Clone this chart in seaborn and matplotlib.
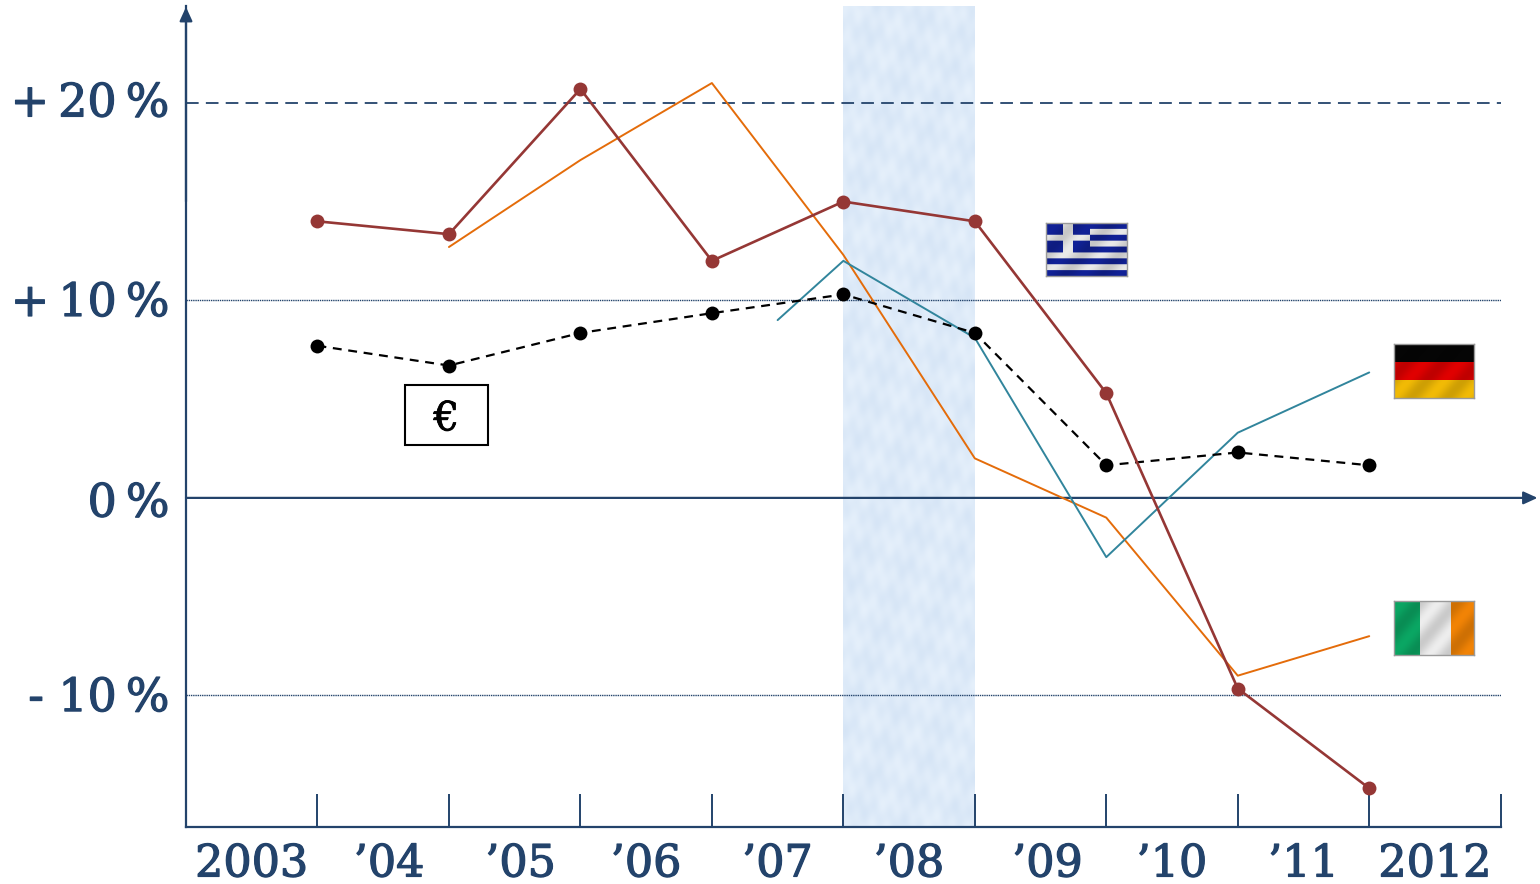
"""
plot.py
Year-on-year change chart: Greece, Ireland, Germany and the euro area, 2003-2012.
"""
import numpy as np
import matplotlib
matplotlib.use("Agg")
import matplotlib.pyplot as plt
from matplotlib.colors import to_rgb
from matplotlib.patches import Rectangle
from matplotlib.transforms import ScaledTranslation
import matplotlib.patheffects as pe
import seaborn as sns

# -----------------------------------------------------------------
# Data (x = end of the year bin, 1 = end of 2003)
# -----------------------------------------------------------------
year_labels = ["2003", "’04", "’05", "’06", "’07", "’08", "’09", "’10", "’11", "2012"]
y_ticks = [-10, 0, 10, 20]
y_labels = ["- 10\u2009%", "0\u2009%", "+\u200910\u2009%", "+\u200920\u2009%"]

x_greece = [1, 2, 3, 4, 5, 6, 7, 8, 9]
greece = [14.0, 13.35, 20.7, 12.0, 15.0, 14.0, 5.3, -9.65, -14.7]
x_euro = [1, 2, 3, 4, 5, 6, 7, 8, 9]
euro = [7.7, 6.7, 8.35, 9.35, 10.3, 8.35, 1.65, 2.3, 1.65]
x_ireland = [2, 3, 4, 5, 6, 7, 8, 9]
ireland = [12.7, 17.1, 21.0, 12.3, 2.0, -1.0, -9.0, -7.0]
x_germany = [4.5, 5, 6, 7, 8, 9]
germany = [9.0, 12.0, 8.1, -3.0, 3.3, 6.35]

NAVY = "#23436b"
RED = "#953735"
ORANGE = "#e46c0a"
TEAL = "#31859c"
BLUE_FLAG = "#101f8c"
WHITE_FLAG = "#d8d8d8"

W, H = 1540, 884
sns.set_theme(style="white")
plt.rcParams["font.family"] = ["DejaVu Serif"]


def px_box(x0, y0, x1, y1):
    # pixel box (top-left origin) -> figure fraction rectangle
    return [x0 / W, 1 - y1 / H, (x1 - x0) / W, (y1 - y0) / H]


fig = plt.figure(figsize=(W / 100, H / 100), dpi=100, facecolor="white")
ax = fig.add_axes(px_box(186, 6, 1500.7, 827))
ax.patch.set_alpha(0)

# crisis band over 2008, mottled like the original paper texture
yy, xx = np.mgrid[0:820, 0:132]
mottle = (np.sin(xx * 0.13 + yy * 0.05) + np.sin(xx * 0.07 - yy * 0.17 + 1.3)
          + 0.7 * np.sin(xx * 0.31 + yy * 0.23 + 0.6) + 0.7 * np.sin(xx * 0.47 - yy * 0.11 + 2.1)) / 3.4
band = np.stack([0.87 + 0.035 * mottle, 0.92 + 0.025 * mottle, 0.975 + 0.012 * mottle], axis=-1)
ax.imshow(np.clip(band, 0, 1), extent=(5, 6, -16.66, 24.9), aspect="auto", zorder=0,
          interpolation="bilinear")
ax.set_xlim(0, 10)
ax.set_ylim(-16.66, 24.9)

# reference lines
ax.axhline(20, color=NAVY, lw=1.3, dashes=(7, 4), zorder=1)
ax.axhline(10, color=NAVY, lw=1.0, ls=(0, (1, 0.6)), zorder=1)
ax.axhline(-10, color=NAVY, lw=1.0, ls=(0, (1, 0.6)), zorder=1)

# series
sns.lineplot(x=x_ireland, y=ireland, color=ORANGE, lw=1.4, ax=ax, zorder=3)
sns.lineplot(x=x_germany, y=germany, color=TEAL, lw=1.4, ax=ax, zorder=3)
sns.lineplot(x=x_euro, y=euro, color="black", lw=1.6, ax=ax, zorder=4,
             linestyle=(0, (4, 3)), marker="o", markersize=10, markeredgewidth=0)
sns.lineplot(x=x_greece, y=greece, color=RED, lw=1.9, ax=ax, zorder=5,
             marker="o", markersize=10, markeredgewidth=0)

# spines and axis arrows
for side in ["top", "right"]:
    ax.spines[side].set_visible(False)
for side in ["left", "bottom"]:
    ax.spines[side].set_color(NAVY)
    ax.spines[side].set_linewidth(1.6)

arrow = dict(arrowstyle="-|>,head_length=0.7,head_width=0.32", color=NAVY, lw=1.6,
             shrinkA=0, shrinkB=0)
ax.annotate("", xy=(0, 24.85), xytext=(0, 15), arrowprops=arrow, annotation_clip=False, zorder=2)
ax.annotate("", xy=(10.28, 0), xytext=(0, 0), arrowprops=arrow, annotation_clip=False, zorder=2)

# ticks: marks on the bin edges, labels on the bin centres
ax.set_xticks(np.arange(1, 11))
ax.set_xticklabels([])
ax.tick_params(axis="x", which="major", direction="in", length=24, width=1.4,
               color=NAVY, bottom=True)
ax.set_xticks(np.arange(10) + 0.5, minor=True)
ax.set_xticklabels(year_labels, minor=True)
ax.tick_params(axis="x", which="minor", length=0, pad=11, labelsize=32, labelcolor=NAVY)

ax.set_yticks(y_ticks)
ax.set_yticklabels(y_labels)
ax.tick_params(axis="y", length=0, pad=12, labelsize=33, labelcolor=NAVY)

stroke = [pe.withStroke(linewidth=0.9, foreground=NAVY)]
x_nudge = [0, 6, 6, 0, 0, 0, 7, 0, 0, 0]
for lab, dx in zip(ax.get_xticklabels(minor=True), x_nudge):
    lab.set_path_effects(stroke)
    lab.set_transform(lab.get_transform() + ScaledTranslation(dx / 100, 0, fig.dpi_scale_trans))
y_nudge = [2, -1, 2, 4]
for lab, dy in zip(ax.get_yticklabels(), y_nudge):
    lab.set_path_effects(stroke)
    lab.set_transform(lab.get_transform() + ScaledTranslation(0, dy / 100, fig.dpi_scale_trans))

# euro label box
ax.add_patch(Rectangle((1.666, 2.68), 0.631, 3.04, fc="white", ec="black", lw=1.5, zorder=3))
ax.text(1.98, 3.95, "€", ha="center", va="center", fontsize=29, color="black", zorder=4,
        path_effects=[pe.withStroke(linewidth=0.6, foreground="black")])


# -----------------------------------------------------------------
# Flags
# -----------------------------------------------------------------
def add_flag(box, img):
    # diagonal sheen so they look like the glossy icons
    h, w = img.shape[:2]
    yy, xx = np.mgrid[0:h, 0:w]
    sheen = 1 + 0.08 * np.sin((xx / w * 2.2 + yy / h * 1.3) * 2 * np.pi)
    fax = fig.add_axes(px_box(*box), zorder=6)
    fax.imshow(np.clip(img * sheen[..., None], 0, 1), aspect="auto", interpolation="bilinear")
    fax.set_xticks([])
    fax.set_yticks([])
    for sp in fax.spines.values():
        sp.set_color("#9a9a9a")
        sp.set_linewidth(1.0)


# Germany: three horizontal stripes
flag = np.zeros((54, 80, 3))
for i, c in enumerate(["#050505", "#d00000", "#e0ad05"]):
    flag[i * 18:(i + 1) * 18] = to_rgb(c)
add_flag((1394, 344, 1474, 398), flag)

# Ireland: three vertical stripes
flag = np.zeros((54, 80, 3))
flag[:, :26] = to_rgb("#0a9a5c")
flag[:, 26:57] = to_rgb("#dcdcdc")
flag[:, 57:] = to_rgb("#e07a05")
add_flag((1394, 601, 1474, 655), flag)

# Greece: nine stripes and a cross in the canton
flag = np.zeros((54, 81, 3))
for i in range(9):
    flag[i * 6:(i + 1) * 6] = to_rgb(BLUE_FLAG if i % 2 == 0 else WHITE_FLAG)
flag[:30, :44] = to_rgb(BLUE_FLAG)
flag[12:18, :44] = to_rgb(WHITE_FLAG)
flag[:30, 17:27] = to_rgb(WHITE_FLAG)
add_flag((1046, 223, 1127, 276), flag)

fig.savefig("out.png", dpi=100)
plt.close(fig)
